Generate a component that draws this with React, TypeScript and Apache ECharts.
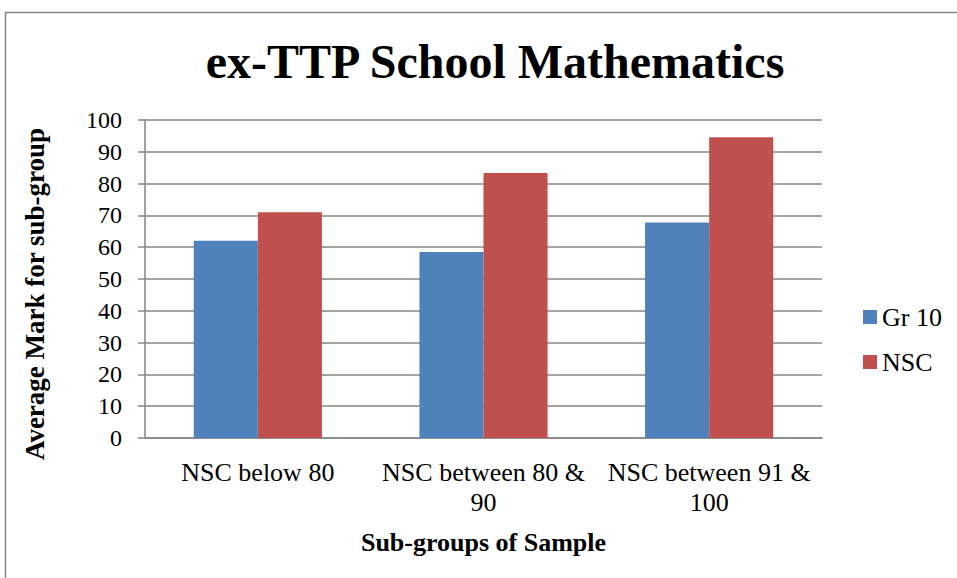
import React, { useEffect, useRef } from "react";
import * as echarts from "echarts";

const categories = ["NSC below 80", "NSC between 80 &\n90", "NSC between 91 &\n100"];
const gr10Values = [62.0, 58.5, 67.8];
const nscValues = [71.0, 83.3, 94.6];
const seriesNames = ["Gr 10", "NSC"];
const titleText = "ex-TTP School Mathematics";
const yAxisTitle = "Average Mark for sub-group";
const xAxisTitle = "Sub-groups of Sample";

const FONT = "Liberation Serif";

export default function App() {
  const ref = useRef<HTMLDivElement>(null);
  useEffect(() => {
    document.body.style.margin = "0";
    const chart = echarts.init(ref.current!, null, { renderer: "svg" });
    chart.setOption({
      animation: false,
      backgroundColor: "#ffffff",
      textStyle: { fontFamily: FONT },
      title: {
        text: titleText,
        left: 490,
        top: 32,
        textAlign: "center",
        textStyle: { fontFamily: FONT, fontSize: 48, fontWeight: "bold", color: "#000" },
      },
      legend: {
        orient: "vertical",
        left: 858,
        top: 299,
        itemWidth: 14,
        itemHeight: 14,
        itemGap: 19,
        icon: "rect",
        textStyle: { fontFamily: FONT, fontSize: 26, color: "#000" },
        data: seriesNames,
      },
      grid: { left: 145, right: 135, top: 120, bottom: 140, containLabel: false },
      xAxis: {
        type: "category",
        data: categories,
        name: xAxisTitle,
        nameLocation: "middle",
        nameGap: 91,
        nameTextStyle: { fontFamily: FONT, fontSize: 26, fontWeight: "bold", color: "#000" },
        axisLine: { lineStyle: { color: "#868686", width: 1.5 } },
        axisTick: { show: false },
        axisLabel: { fontFamily: FONT, fontSize: 26, color: "#000", margin: 19, lineHeight: 30, interval: 0 },
      },
      yAxis: {
        type: "value",
        min: 0,
        max: 100,
        interval: 10,
        axisLine: { show: true, lineStyle: { color: "#868686", width: 1.5 } },
        axisTick: { show: true, length: 7, lineStyle: { color: "#868686", width: 1.5 } },
        axisLabel: { fontFamily: FONT, fontSize: 24, color: "#000", margin: 23 },
        splitLine: { lineStyle: { color: "#868686", width: 1.5 } },
      },
      graphic: [
        {
          type: "rect",
          shape: { x: 5.5, y: 12.5, width: 1000, height: 1000 },
          style: { fill: "none", stroke: "#868686", lineWidth: 1.5 },
          silent: true,
        },
        {
          type: "text",
          x: 35,
          y: 294,
          rotation: Math.PI / 2,
          style: {
            text: yAxisTitle,
            fontFamily: FONT,
            fontSize: 27,
            fontWeight: "bold",
            fill: "#000",
            textAlign: "center",
            textVerticalAlign: "middle",
          },
        },
      ],
      series: [
        {
          name: seriesNames[0],
          type: "bar",
          data: gr10Values,
          itemStyle: { color: "#4F81BD" },
          barWidth: "28.4%",
          barGap: "0%",
        },
        {
          name: seriesNames[1],
          type: "bar",
          data: nscValues,
          itemStyle: { color: "#C0504D" },
          barWidth: "28.4%",
          barGap: "0%",
        },
      ],
    });
    return () => chart.dispose();
  }, []);
  return <div ref={ref} style={{ width: 957, height: 578 }} />;
}
